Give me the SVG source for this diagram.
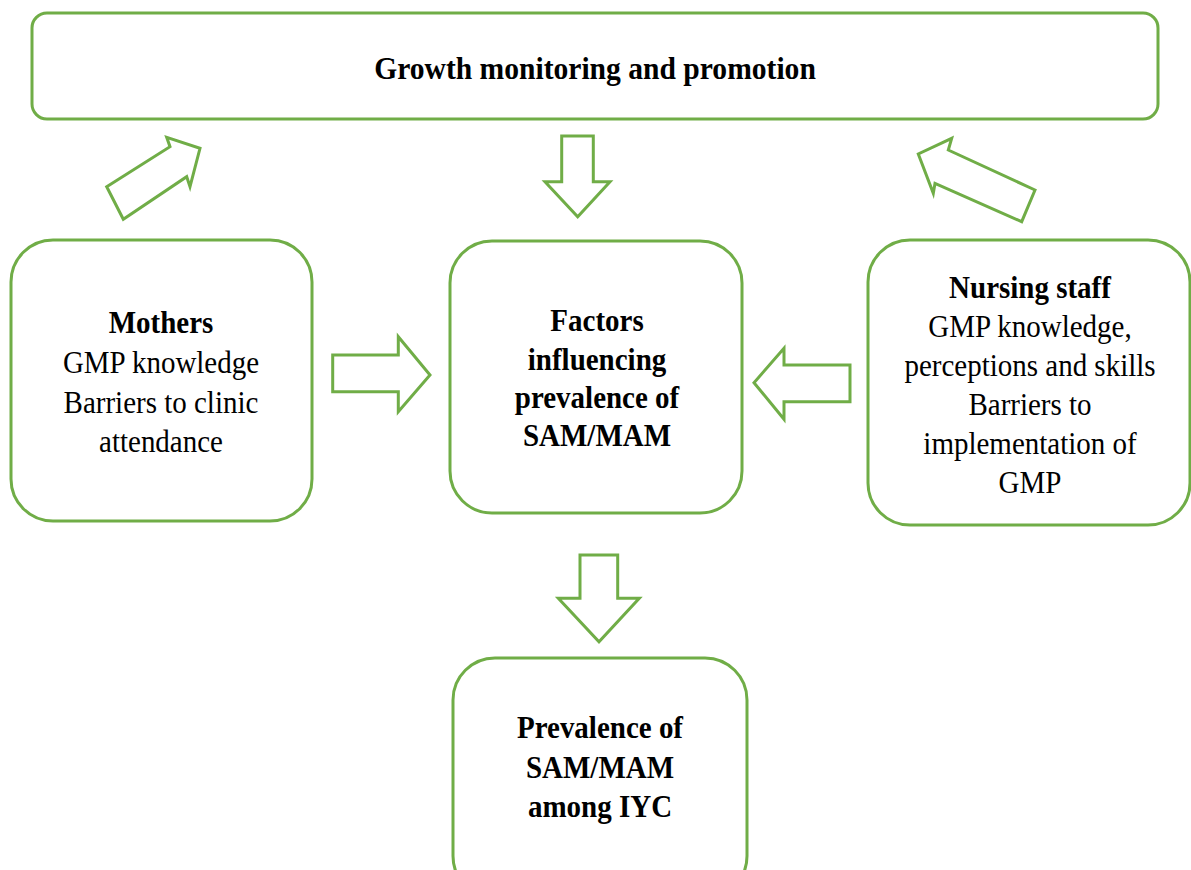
<svg xmlns="http://www.w3.org/2000/svg" width="1191" height="870" viewBox="0 0 1191 870">
  <style>
    .box { fill: #ffffff; stroke: #70AD47; stroke-width: 3; }
    .arrow { fill: #ffffff; stroke: #70AD47; stroke-width: 3; stroke-linejoin: miter; }
    text { font-family: "Liberation Serif", "Times New Roman", serif; font-size: 29px; fill: #000000; text-anchor: middle; }
    .b { font-weight: bold; }
  </style>
  <rect width="1191" height="870" fill="#ffffff"/>

  <!-- each text line is placed by translate(x baseline) and stretched slightly upward -->
  <g id="growth-monitoring">
    <rect class="box" x="32" y="13" width="1126" height="106" rx="15" ry="15"/>
    <text class="b" transform="translate(595 79) scale(1.02 1.1)">Growth monitoring and promotion</text>
  </g>

  <g id="mothers">
    <rect class="box" x="11" y="240" width="301" height="281" rx="42" ry="42"/>
    <text class="b" transform="translate(161 333) scale(1 1.1)">Mothers</text>
    <text transform="translate(161 373) scale(1 1.1)">GMP knowledge</text>
    <text transform="translate(161 413) scale(1 1.1)">Barriers to clinic</text>
    <text transform="translate(161 452) scale(1 1.1)">attendance</text>
  </g>

  <g id="factors">
    <rect class="box" x="450" y="241" width="292" height="272" rx="42" ry="42"/>
    <text class="b" transform="translate(597 331) scale(1 1.1)">Factors</text>
    <text class="b" transform="translate(597 370) scale(1 1.1)">influencing</text>
    <text class="b" transform="translate(597 408) scale(1 1.1)">prevalence of</text>
    <text class="b" transform="translate(597 446) scale(1 1.1)">SAM/MAM</text>
  </g>

  <g id="nursing-staff">
    <rect class="box" x="868" y="240" width="322" height="285" rx="42" ry="42"/>
    <text class="b" transform="translate(1030 298) scale(1 1.1)">Nursing staff</text>
    <text transform="translate(1030 337) scale(1 1.1)">GMP knowledge,</text>
    <text transform="translate(1030 376) scale(1 1.1)">perceptions and skills</text>
    <text transform="translate(1030 415) scale(1 1.1)">Barriers to</text>
    <text transform="translate(1030 454) scale(1 1.1)">implementation of</text>
    <text transform="translate(1030 493) scale(1 1.1)">GMP</text>
  </g>

  <g id="prevalence">
    <rect class="box" x="453" y="658" width="294" height="240" rx="42" ry="42"/>
    <text class="b" transform="translate(600 738) scale(1 1.1)">Prevalence of</text>
    <text class="b" transform="translate(600 778) scale(1 1.1)">SAM/MAM</text>
    <text class="b" transform="translate(600 817) scale(1 1.1)">among IYC</text>
  </g>

  <g id="connectors">
    <!-- mothers up to growth monitoring -->
    <polygon class="arrow" points="106.7,186.7 170,146.7 166.7,137.3 200,148.3 190,186.7 186.7,176.7 123.3,219.3"/>
    <!-- growth monitoring down to factors -->
    <polygon class="arrow" points="561.7,136 593.3,136 593.3,181.7 610,181.7 577.7,216.7 545,181.7 561.7,181.7"/>
    <!-- nursing staff up to growth monitoring -->
    <polygon class="arrow" points="1035,190 948.3,150 951.7,138.3 918.3,154 933.3,193.3 935,183.3 1021.7,221.7"/>
    <!-- mothers to factors -->
    <polygon class="arrow" points="332.7,355 398.3,355 398.3,336.7 430,375 398.3,411.7 398.3,391.7 332.7,391.7"/>
    <!-- nursing staff to factors -->
    <polygon class="arrow" points="850,365 784,365 784,348.3 754,382.7 784,419.3 784,401.7 850,401.7"/>
    <!-- factors down to prevalence -->
    <polygon class="arrow" points="580,555 617.7,555 617.7,598.3 639.3,598.3 599,641.7 558.3,598.3 580,598.3"/>
  </g>
</svg>
